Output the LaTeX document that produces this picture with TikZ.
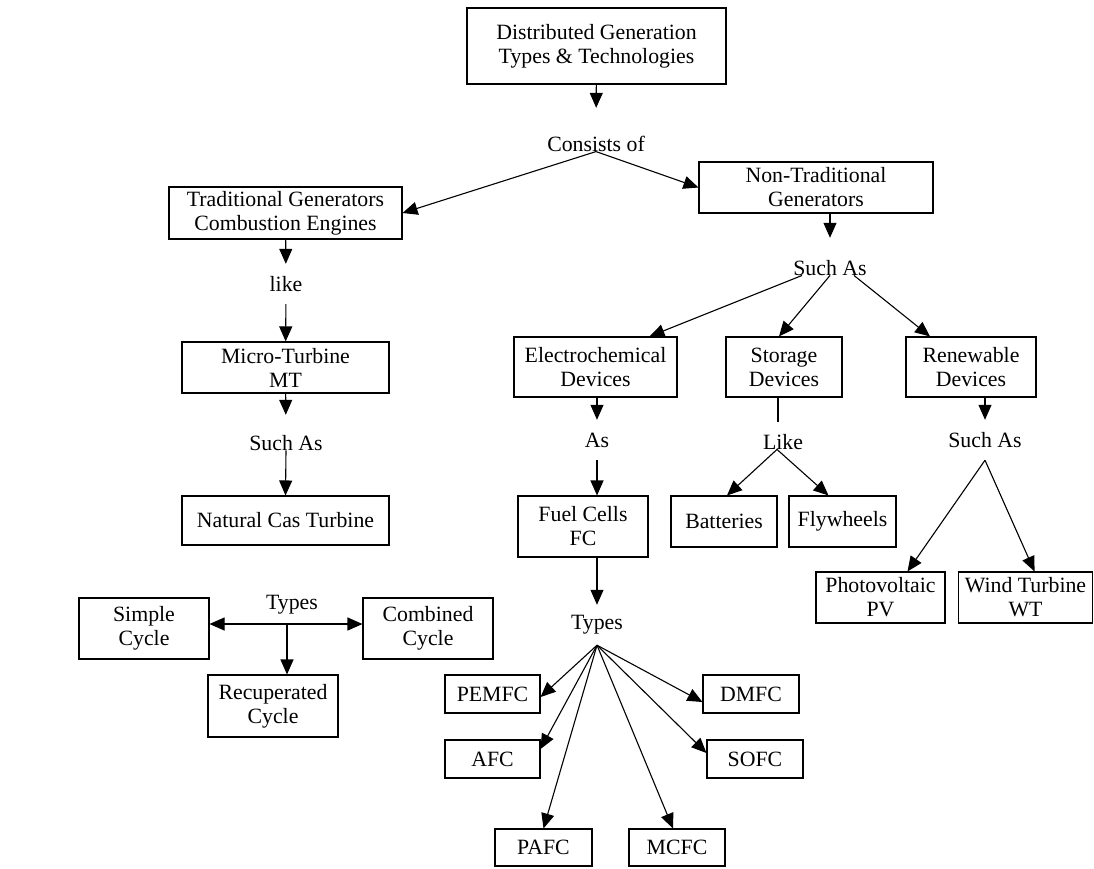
\documentclass[tikz,border=0pt]{standalone}
\usepackage{fontspec}
\setmainfont{Liberation Serif}
\usetikzlibrary{arrows.meta}

\begin{document}
\begin{tikzpicture}[x=1pt, y=-1pt,
  box/.style={draw, line width=1.1pt, align=center, inner sep=0pt,
    font=\fontsize{21.8}{24}\selectfont},
  lbl/.style={inner sep=0pt, minimum height=40pt,
    font=\fontsize{21.8}{24}\selectfont},
  arr/.style={line width=1.1pt, -{Triangle[length=15pt, width=13pt]}},
  conn/.style={line width=1.1pt}]
    \useasboundingbox (0,0) rectangle (1094,868);

    % Top of the tree
    \node[box, minimum width=259pt, minimum height=76pt] (top) at (596.5,46)
          {Distributed Generation\\Types \& Technologies};
    \node[lbl] (consists) at (596,144) {Consists of};
    \node[box, minimum width=233pt, minimum height=52pt] (trad) at (285.5,213)
          {Traditional Generators\\Combustion Engines};
    \node[box, minimum width=234pt, minimum height=51pt] (nontrad) at (816,187.5)
          {Non-Traditional\\Generators};

    % Traditional branch
    \node[lbl] (like) at (286,284) {like};
    \node[box, minimum width=207pt, minimum height=51pt] (mt) at (285.5,367.5)
          {Micro-Turbine\\MT};
    \node[lbl] (suchmt) at (286,443) {Such As};
    \node[box, minimum width=207pt, minimum height=49pt] (ngt) at (285.5,520.5)
          {Natural Cas Turbine};

    % Turbine cycles
    \node[lbl] (types1) at (292,605) {Types};
    \coordinate (tj) at (287,624);
    \node[box, minimum width=130pt, minimum height=61pt] (simple) at (144,628.5)
          {Simple\\Cycle};
    \node[box, minimum width=130pt, minimum height=61pt] (combined) at (428,628.5)
          {Combined\\Cycle};
    \node[box, minimum width=130pt, minimum height=62pt] (recup) at (273,706)
          {Recuperated\\Cycle};

    % Non-traditional branch
    \node[lbl] (suchng) at (830,268) {Such As};
    \node[box, minimum width=163pt, minimum height=60pt] (electro) at (595.5,367)
          {Electrochemical\\Devices};
    \node[box, minimum width=116pt, minimum height=60pt] (storage) at (784,367)
          {Storage\\Devices};
    \node[box, minimum width=130pt, minimum height=60pt] (renew) at (971,367)
          {Renewable\\Devices};

    \node[lbl] (as) at (597,440) {As};
    \node[lbl] (like2) at (783,442) {Like};
    \node[lbl] (suchre) at (985,440) {Such As};

    \node[box, minimum width=130pt, minimum height=61pt] (fc) at (583,526.5)
          {Fuel Cells\\FC};
    \node[box, minimum width=106pt, minimum height=51pt] (batt) at (724,521.5)
          {Batteries};
    \node[box, minimum width=107pt, minimum height=51pt] (fly) at (842.5,521.5)
          {Flywheels};
    \node[box, minimum width=129pt, minimum height=51pt] (pv) at (880.5,597.5)
          {Photovoltaic\\PV};
    \node[box, minimum width=134pt, minimum height=51pt] (wt) at (1025.5,597.5)
          {Wind Turbine\\WT};

    % Fuel cell types
    \node[lbl] (types2) at (597,625) {Types};
    \node[box, minimum width=95pt, minimum height=38pt] (pemfc) at (492.5,694) {PEMFC};
    \node[box, minimum width=95pt, minimum height=38pt] (afc) at (492.5,759) {AFC};
    \node[box, minimum width=97pt, minimum height=37pt] (pafc) at (543.5,847.5) {PAFC};
    \node[box, minimum width=96pt, minimum height=37pt] (mcfc) at (677,847.5) {MCFC};
    \node[box, minimum width=96pt, minimum height=38pt] (dmfc) at (751,694) {DMFC};
    \node[box, minimum width=96pt, minimum height=38pt] (sofc) at (755,759) {SOFC};

    % Connections
    \draw[arr, shorten >=16pt] (top) -- (consists);
    \draw[arr] (consists.base) -- (trad.east);
    \draw[arr] (consists.base) -- (nontrad.west);

    \draw[arr] (trad) -- (like);
    \draw[arr] (like) -- (mt);
    \draw[arr, shorten >=8pt] (mt) -- (suchmt);
    \draw[arr] (suchmt.base) -- (ngt.north);

    \draw[arr] (tj) -- (tj -| simple.east);
    \draw[arr] (tj) -- (tj -| combined.west);
    \draw[arr] (tj) -- (tj |- recup.north);

    \draw[arr, shorten >=10pt] (nontrad.south -| suchng) -- (suchng);
    \draw[arr] ([xshift=-28pt]suchng.base) -- ([xshift=54pt]electro.north);
    \draw[arr] (suchng.base) -- ([xshift=-5pt]storage.north);
    \draw[arr] ([xshift=24pt]suchng.base) -- ([xshift=-41pt]renew.north);

    \draw[arr] (electro.south -| as) -- (as);
    \draw[arr] (as) -- (fc.north -| as);
    \draw[conn] ([xshift=-6pt]storage.south) -- ([xshift=-5pt]like2.north);
    \draw[arr] ([xshift=-6pt]like2.base) -- ([xshift=3pt]batt.north);
    \draw[arr] ([xshift=-6pt]like2.base) -- ([xshift=-14pt]fly.north);
    \draw[arr] (renew.south -| suchre) -- (suchre);
    \draw[arr] (suchre.south) -- ([xshift=27pt]pv.north);
    \draw[arr] (suchre.south) -- ([xshift=9pt]wt.north);

    \draw[arr] (fc.south -| types2) -- (types2);
    \draw[arr] (types2.south) -- ([yshift=-3pt]pemfc.east);
    \draw[arr] (types2.south) -- ([yshift=10pt]afc.east);
    \draw[arr] (types2.south) -- (pafc.north);
    \draw[arr] (types2.south) -- ([xshift=-4pt]mcfc.north);
    \draw[arr] (types2.south) -- ([yshift=-8pt]dmfc.west);
    \draw[arr] (types2.south) -- ([yshift=6pt]sofc.west);
\end{tikzpicture}
\end{document}
